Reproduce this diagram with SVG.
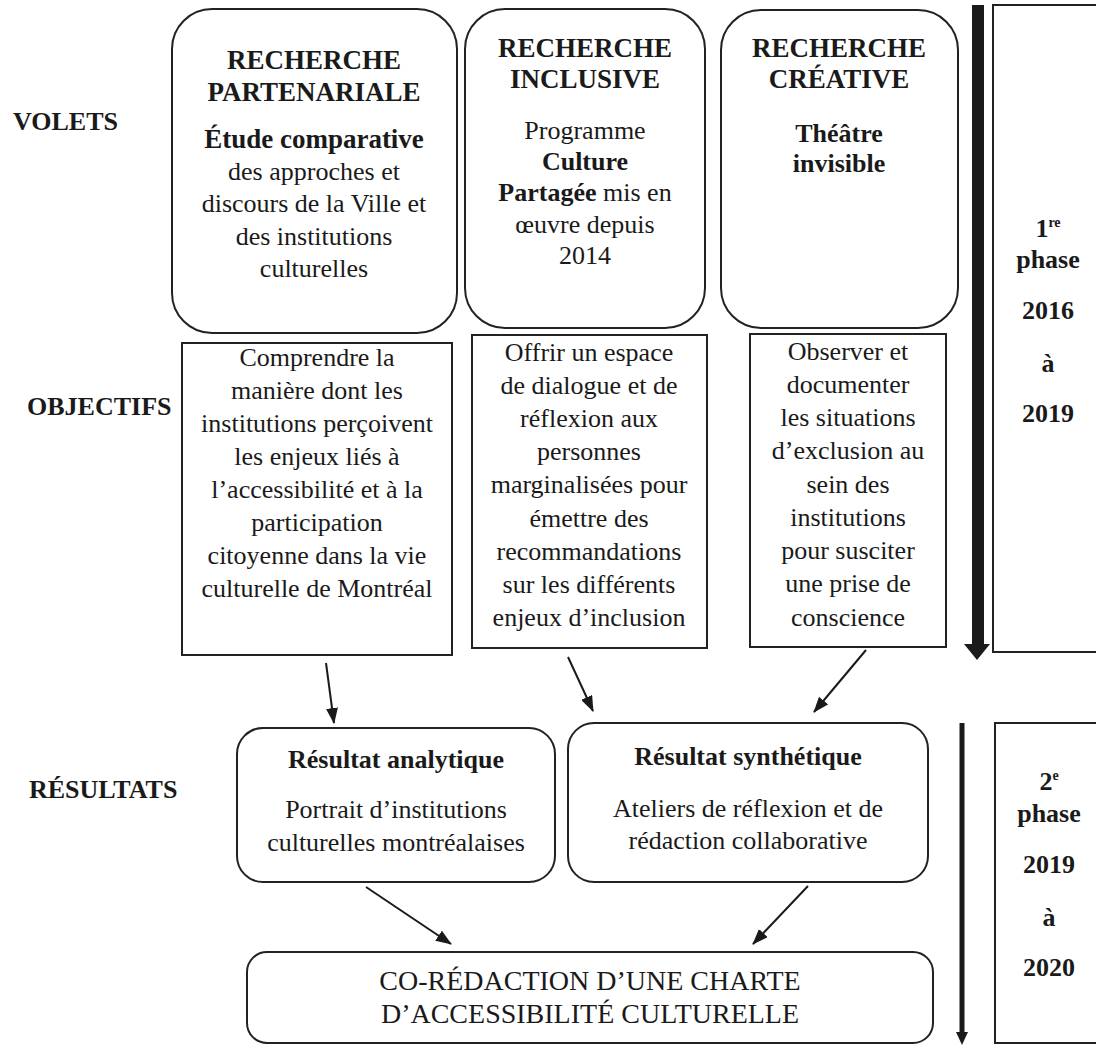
<svg xmlns="http://www.w3.org/2000/svg" width="1096" height="1045" viewBox="0 0 1096 1045">
<defs>
<style>
.box{fill:#fff;stroke:#222;stroke-width:2}
.t{font-family:"Liberation Serif","Times New Roman",serif;fill:#1a1a1a;text-anchor:middle}
.b{font-weight:bold}
.lab{font-family:"Liberation Serif","Times New Roman",serif;font-weight:bold;font-size:26px;fill:#1a1a1a}
.body{font-size:26px}
.ttl{font-size:27px;font-weight:bold}
.ph{font-size:26px;font-weight:bold}
.con{stroke:#1a1a1a;stroke-width:2;fill:none}
</style>
<marker id="ah" viewBox="0 0 16 12" refX="15" refY="6" markerWidth="16" markerHeight="12" markerUnits="userSpaceOnUse" orient="auto">
<path d="M0,0 L16,6 L0,12 Z" fill="#1a1a1a"/>
</marker>
</defs>
<rect width="1096" height="1045" fill="#fff"/>

<g id="labels">
<text class="lab" x="13" y="130">VOLETS</text>
<text class="lab" x="27" y="415">OBJECTIFS</text>
<text class="lab" x="29" y="798">RÉSULTATS</text>
</g>

<g id="volet-partenariale">
<rect class="box" x="172" y="9" width="285" height="324" rx="40"/>
<text class="t ttl" x="314" y="69">RECHERCHE</text>
<text class="t ttl" x="314" y="101">PARTENARIALE</text>
<text class="t ttl" x="314" y="148">Étude comparative</text>
<text class="t body" x="314" y="180">des approches et</text>
<text class="t body" x="314" y="212">discours de la Ville et</text>
<text class="t body" x="314" y="245">des institutions</text>
<text class="t body" x="314" y="277">culturelles</text>
</g>

<g id="volet-inclusive">
<rect class="box" x="465" y="9" width="240" height="319" rx="40"/>
<text class="t ttl" x="585" y="57">RECHERCHE</text>
<text class="t ttl" x="585" y="88">INCLUSIVE</text>
<text class="t body" x="585" y="139">Programme</text>
<text class="t body b" x="585" y="170">Culture</text>
<text class="t body" x="585" y="201"><tspan class="b">Partagée</tspan> mis en</text>
<text class="t body" x="585" y="233">œuvre depuis</text>
<text class="t body" x="585" y="264">2014</text>
</g>

<g id="volet-creative">
<rect class="box" x="721" y="10" width="237" height="318" rx="40"/>
<text class="t ttl" x="839" y="57">RECHERCHE</text>
<text class="t ttl" x="839" y="88">CRÉATIVE</text>
<text class="t body b" x="839" y="142">Théâtre</text>
<text class="t body b" x="839" y="172">invisible</text>
</g>

<g id="phase1">
<rect class="box" x="993" y="5" width="115" height="647"/>
<text class="t ph" x="1048" y="237">1<tspan font-size="14" dy="-10">re</tspan></text>
<text class="t ph" x="1048" y="268">phase</text>
<text class="t ph" x="1048" y="319">2016</text>
<text class="t ph" x="1048" y="372">à</text>
<text class="t ph" x="1048" y="422">2019</text>
</g>

<g id="objectif-a">
<rect class="box" x="182" y="343" width="270" height="312"/>
<text class="t body" x="317" y="366">Comprendre la</text>
<text class="t body" x="317" y="399">manière dont les</text>
<text class="t body" x="317" y="432">institutions perçoivent</text>
<text class="t body" x="317" y="465">les enjeux liés à</text>
<text class="t body" x="317" y="498">l’accessibilité et à la</text>
<text class="t body" x="317" y="531">participation</text>
<text class="t body" x="317" y="564">citoyenne dans la vie</text>
<text class="t body" x="317" y="597">culturelle de Montréal</text>
</g>

<g id="objectif-b">
<rect class="box" x="472" y="335" width="235" height="313"/>
<text class="t body" x="589" y="361">Offrir un espace</text>
<text class="t body" x="589" y="394">de dialogue et de</text>
<text class="t body" x="589" y="427">réflexion aux</text>
<text class="t body" x="589" y="460">personnes</text>
<text class="t body" x="589" y="493">marginalisées pour</text>
<text class="t body" x="589" y="527">émettre des</text>
<text class="t body" x="589" y="560">recommandations</text>
<text class="t body" x="589" y="593">sur les différents</text>
<text class="t body" x="589" y="626">enjeux d’inclusion</text>
</g>

<g id="objectif-c">
<rect class="box" x="750" y="334" width="196" height="313"/>
<text class="t body" x="848" y="360">Observer et</text>
<text class="t body" x="848" y="393">documenter</text>
<text class="t body" x="848" y="426">les situations</text>
<text class="t body" x="848" y="459">d’exclusion au</text>
<text class="t body" x="848" y="493">sein des</text>
<text class="t body" x="848" y="526">institutions</text>
<text class="t body" x="848" y="559">pour susciter</text>
<text class="t body" x="848" y="592">une prise de</text>
<text class="t body" x="848" y="626">conscience</text>
</g>

<g id="resultat-analytique">
<rect class="box" x="237" y="728" width="318" height="154" rx="26"/>
<text class="t body b" x="396" y="768">Résultat analytique</text>
<text class="t body" x="396" y="818">Portrait d’institutions</text>
<text class="t body" x="396" y="851">culturelles montréalaises</text>
</g>

<g id="resultat-synthetique">
<rect class="box" x="568" y="723" width="360" height="159" rx="26"/>
<text class="t body b" x="748" y="765">Résultat synthétique</text>
<text class="t body" x="748" y="817">Ateliers de réflexion et de</text>
<text class="t body" x="748" y="849">rédaction collaborative</text>
</g>

<g id="phase2">
<rect class="box" x="995" y="723" width="115" height="320"/>
<text class="t ph" x="1049" y="790">2<tspan font-size="14" dy="-10">e</tspan></text>
<text class="t ph" x="1049" y="822">phase</text>
<text class="t ph" x="1049" y="873">2019</text>
<text class="t ph" x="1049" y="926">à</text>
<text class="t ph" x="1049" y="976">2020</text>
</g>

<g id="charte">
<rect class="box" x="247" y="952" width="686" height="91" rx="20"/>
<text class="t" font-size="28" x="590" y="990">CO-RÉDACTION D’UNE CHARTE</text>
<text class="t" font-size="28" x="590" y="1023">D’ACCESSIBILITÉ CULTURELLE</text>
</g>

<g id="connectors">
<line class="con" x1="326" y1="663" x2="334" y2="723" marker-end="url(#ah)"/>
<line class="con" x1="568" y1="657" x2="593" y2="711" marker-end="url(#ah)"/>
<line class="con" x1="866" y1="650" x2="814" y2="712" marker-end="url(#ah)"/>
<line class="con" x1="366" y1="887" x2="451" y2="944" marker-end="url(#ah)"/>
<line class="con" x1="808" y1="886" x2="753" y2="944" marker-end="url(#ah)"/>
<path d="M972,5 H984 V644 H990 L977,660 L964,644 H972 Z" fill="#1a1a1a"/>
<line x1="962" y1="723" x2="962" y2="1034" stroke="#1a1a1a" stroke-width="5"/>
<path d="M956,1032 L968,1032 L962,1045 Z" fill="#1a1a1a"/>
</g>
</svg>
